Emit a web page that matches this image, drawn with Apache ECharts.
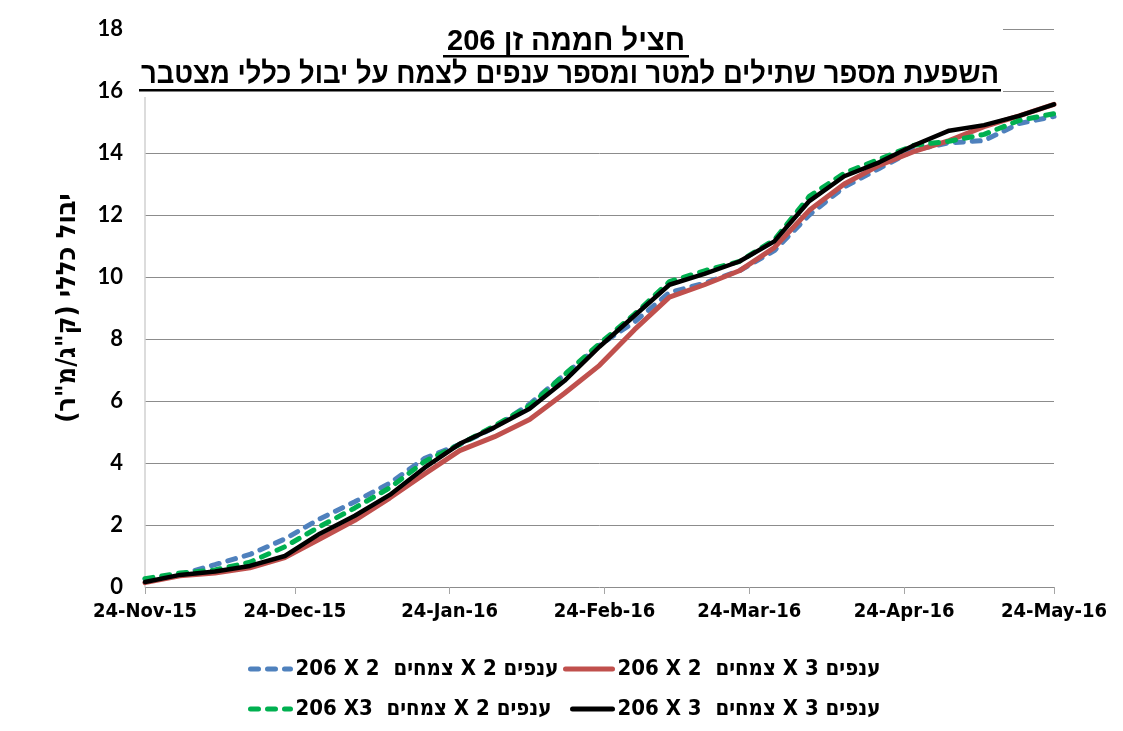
<!DOCTYPE html>
<html>
<head>
<meta charset="utf-8">
<script src="https://cdn.jsdelivr.net/npm/echarts@6/dist/echarts.min.js"></script>
<style>
html,body{margin:0;padding:0;background:#fff;}
#chart{width:1123px;height:731px;}
</style>
</head>
<body>
<div id="chart"></div>
<script>
// ---- data ----
const dates = ['2015-11-24','2015-12-01','2015-12-08','2015-12-15','2015-12-22','2015-12-29',
  '2016-01-05','2016-01-12','2016-01-19','2016-01-26','2016-02-02','2016-02-09','2016-02-16',
  '2016-02-23','2016-03-01','2016-03-08','2016-03-15','2016-03-22','2016-03-29','2016-04-05',
  '2016-04-12','2016-04-19','2016-04-26','2016-05-03','2016-05-10','2016-05-17','2016-05-24'];

const blue2x2  = [0.25,0.40,0.72,1.05,1.55,2.20,2.75,3.35,4.15,4.60,5.15,5.90,6.85,7.80,8.55,9.50,9.80,10.20,10.85,12.00,12.90,13.50,14.10,14.33,14.40,14.95,15.18];
const red2x3   = [0.14,0.36,0.45,0.62,0.95,1.55,2.15,2.87,3.65,4.40,4.85,5.40,6.25,7.15,8.30,9.35,9.75,10.20,10.95,12.15,13.00,13.60,14.05,14.40,14.85,15.20,15.57];
const green3x2 = [0.27,0.45,0.55,0.80,1.30,1.95,2.55,3.20,4.05,4.60,5.20,5.85,6.85,7.85,8.80,9.85,10.20,10.50,11.20,12.60,13.35,13.80,14.25,14.38,14.60,15.05,15.27];
const black3x3 = [0.16,0.39,0.50,0.68,1.00,1.72,2.30,2.97,3.85,4.62,5.15,5.75,6.65,7.75,8.75,9.75,10.10,10.50,11.15,12.45,13.25,13.70,14.25,14.72,14.90,15.20,15.57];

const seriesNames = [
  '206 X 2  צמחים X 2 ענפים',
  '206 X 2  צמחים X 3 ענפים',
  '206 X3  צמחים X 2 ענפים',
  '206 X 3  צמחים X 3 ענפים'
];

const tickDates = ['2015-11-24','2015-12-24','2016-01-24','2016-02-24','2016-03-24','2016-04-24','2016-05-24'];
const tickLabels = ['24-Nov-15','24-Dec-15','24-Jan-16','24-Feb-16','24-Mar-16','24-Apr-16','24-May-16'];

const title1 = 'חציל חממה זן 206';
const title2 = 'השפעת מספר שתילים למטר ומספר ענפים לצמח על יבול כללי מצטבר';
const yName = '\u200Fיבול כללי (ק"ג/מ"ר)\u200F';

// ---- helpers ----
const DAY = 86400000;
function ts(s){ const p = s.split('-').map(Number); return Date.UTC(p[0], p[1]-1, p[2]); }
const t0 = ts(dates[0]);
function dayOf(s){ return Math.round((ts(s) - t0) / DAY); }
const tickDays = tickDates.map(dayOf);
function pairs(vals){ return dates.map((d,i)=>[dayOf(d), vals[i]]); }

const narrow = "'Liberation Sans Narrow', 'DejaVu Sans Condensed', 'Liberation Sans', sans-serif";
const titleFont = "bold 30px 'Liberation Sans', sans-serif";
const mctx = document.createElement('canvas').getContext('2d');
function textW(t, f){ mctx.font = f; return mctx.measureText(t).width; }

const chart = echarts.init(document.getElementById('chart'), null, {renderer:'canvas'});

// title layout (target widths)
const t1x = 566, t1y = 42, t2x = 570, t2y = 75;
const tw1 = 238, tw2 = 858;
const s1 = tw1 / textW(title1, titleFont), s2 = tw2 / textW(title2, titleFont);

function lg(name, left, top, iw){
  return {data:[name], left:left, top:top, itemWidth:iw, itemHeight:14, itemGap:0,
    itemStyle:{opacity:0, borderWidth:0},
    lineStyle:{width:5},
    textStyle:{fontFamily:narrow, fontWeight:'bold', fontSize:22, color:'#000'}};
}

const option = {
  animation:false,
  backgroundColor:'#fff',
  grid:{left:145, right:69, top:29, bottom:144, containLabel:false},
  xAxis:{
    type:'value',
    min:0, max:dayOf(dates[dates.length-1]),
    axisLine:{show:false},
    axisTick:{show:true, length:7, lineStyle:{color:'#a6a6a6', width:1}, customValues:tickDays},
    axisLabel:{customValues:tickDays, margin:15, color:'#000', fontFamily:narrow, fontWeight:'bold', fontSize:20,
      formatter:function(v){ const i = tickDays.indexOf(v); return i>=0 ? tickLabels[i] : ''; }},
    splitLine:{show:false}
  },
  yAxis:{
    type:'value', min:0, max:18, interval:2,
    name:yName, nameLocation:'middle', nameRotate:90, nameGap:64,
    nameTextStyle:{fontFamily:narrow, fontWeight:'bold', fontSize:27, color:'#000'},
    axisLine:{show:true, lineStyle:{color:'#d0d0d0', width:1.5}},
    axisTick:{show:false},
    axisLabel:{margin:22, color:'#000', fontFamily:"Lato, 'Open Sans', sans-serif", fontWeight:'bold', fontSize:22},
    splitLine:{show:true, lineStyle:{color:'#8c8c8c', width:1}}
  },
  legend:[
    lg(seriesNames[0], 243, 653, 40),
    lg(seriesNames[1], 558, 653, 47),
    lg(seriesNames[2], 243, 693, 40),
    lg(seriesNames[3], 565, 693, 40)
  ],
  series:[
    {name:seriesNames[0], type:'line', data:pairs(blue2x2), symbol:'none', smooth:false,
      lineStyle:{color:'#4F81BD', width:5, type:[8,9], cap:'round'}, itemStyle:{color:'#4F81BD'}},
    {name:seriesNames[1], type:'line', data:pairs(red2x3), symbol:'none',
      lineStyle:{color:'#C0504D', width:5, cap:'round'}, itemStyle:{color:'#C0504D'}},
    {name:seriesNames[2], type:'line', data:pairs(green3x2), symbol:'none',
      lineStyle:{color:'#00B050', width:5, type:[8,9], cap:'round'}, itemStyle:{color:'#00B050'}},
    {name:seriesNames[3], type:'line', data:pairs(black3x3), symbol:'none',
      lineStyle:{color:'#000000', width:4.5, cap:'round'}, itemStyle:{color:'#000000'}}
  ],
  graphic:[
    {type:'rect', z:100, shape:{x:133, y:17, width:870, height:80}, style:{fill:'#fff'}},
    {type:'text', z:101, x:t1x, y:t1y, scaleX:s1, style:{text:title1, font:titleFont, fill:'#000', align:'center', verticalAlign:'middle'}},
    {type:'rect', z:101, shape:{x:t1x - tw1/2 - 4, y:t1y + 13, width:tw1 + 8, height:2.5}, style:{fill:'#000'}},
    {type:'text', z:101, x:t2x, y:t2y, scaleX:s2, style:{text:title2, font:titleFont, fill:'#000', align:'center', verticalAlign:'middle'}},
    {type:'rect', z:101, shape:{x:t2x - tw2/2 - 2, y:t2y + 14, width:tw2 + 4, height:2.5}, style:{fill:'#000'}}
  ]
};
chart.setOption(option);
</script>
</body>
</html>
